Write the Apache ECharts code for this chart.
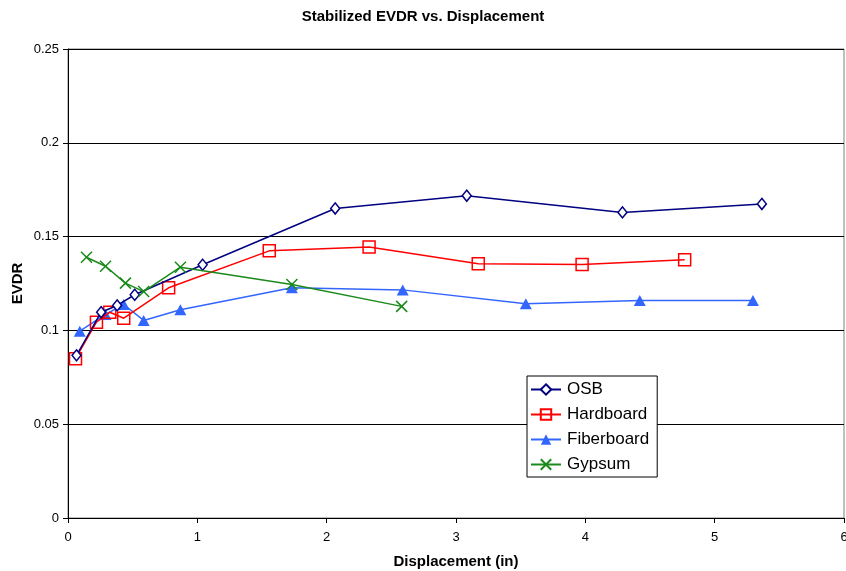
<!DOCTYPE html>
<html>
<head>
<meta charset="utf-8">
<script src="https://cdn.jsdelivr.net/npm/echarts@6/dist/echarts.min.js"></script>
<style>
  html, body { margin: 0; padding: 0; background: #fff; }
  #chart { width: 846px; height: 571px; }
</style>
</head>
<body>
<div id="chart"></div>
<script>
// Displacement (in) and stabilized EVDR for each sheathing material
const osbX = [0.066, 0.256, 0.38, 0.516, 1.041, 2.066, 3.083, 4.287, 5.365];
const osbY = [0.0867, 0.1097, 0.1133, 0.119, 0.135, 0.165, 0.1718, 0.1629, 0.1674];

const hardX = [0.058, 0.22, 0.323, 0.431, 0.778, 1.556, 2.328, 3.172, 3.975, 4.768];
const hardY = [0.0849, 0.1044, 0.1097, 0.1065, 0.1227, 0.1424, 0.1445, 0.1355, 0.1351, 0.1376];

const fiberX = [0.091, 0.29, 0.431, 0.585, 0.869, 1.731, 2.588, 3.54, 4.421, 5.296];
const fiberY = [0.0996, 0.1085, 0.1138, 0.1053, 0.111, 0.1227, 0.1216, 0.1142, 0.116, 0.116];

const gypX = [0.143, 0.29, 0.444, 0.585, 0.869, 1.731, 2.58];
const gypY = [0.139, 0.1342, 0.1252, 0.1207, 0.1337, 0.1245, 0.1128];

const xTicks = [0, 1, 2, 3, 4, 5, 6];
const yTicks = [0, 0.05, 0.1, 0.15, 0.2, 0.25];

const pairs = (xs, ys) => xs.map((x, i) => [x, ys[i]]);

const FONT = '"Liberation Sans", Arial, sans-serif';
const crossPath = 'path://M0,0L10,10M10,0L0,10';

const chart = echarts.init(document.getElementById('chart'));
chart.setOption({
  animation: false,
  backgroundColor: '#fff',
  title: {
    text: 'Stabilized EVDR vs. Displacement',
    left: 'center',
    top: 4,
    textStyle: { fontFamily: FONT, fontSize: 15, fontWeight: 'bold', color: '#000' }
  },
  grid: {
    left: 68, right: 2, top: 49, bottom: 53,
    outerBoundsMode: 'none',
    containLabel: false,
    show: true, borderColor: '#808080', borderWidth: 1, backgroundColor: '#fff'
  },
  legend: {
    orient: 'vertical',
    left: 527, top: 376,
    padding: [5, 8, 4, 3],
    itemGap: 8,
    itemWidth: 30, itemHeight: 13,
    backgroundColor: '#fff',
    borderColor: '#000', borderWidth: 1, borderRadius: 0,
    textStyle: { fontFamily: FONT, fontSize: 17, color: '#000', padding: [0, 0, 0, 1] },
    data: ['OSB', 'Hardboard', 'Fiberboard', 'Gypsum']
  },
  xAxis: {
    type: 'value',
    min: xTicks[0], max: xTicks[xTicks.length - 1], interval: 1,
    name: 'Displacement (in)',
    nameLocation: 'middle', nameGap: 36,
    nameTextStyle: { fontFamily: FONT, fontSize: 15, fontWeight: 'bold', color: '#000' },
    axisLine: { show: true, onZero: false, lineStyle: { color: '#000', width: 1 } },
    axisTick: { show: true, length: 5, lineStyle: { color: '#000' } },
    axisLabel: { fontFamily: FONT, fontSize: 13, color: '#000', margin: 13 },
    splitLine: { show: false }
  },
  yAxis: {
    type: 'value',
    min: yTicks[0], max: yTicks[yTicks.length - 1], interval: 0.05,
    name: 'EVDR',
    nameLocation: 'middle', nameGap: 43, nameRotate: 90,
    nameMoveOverlap: false,
    nameTextStyle: { fontFamily: FONT, fontSize: 15, fontWeight: 'bold', color: '#000' },
    axisLine: { show: true, lineStyle: { color: '#000', width: 1 } },
    axisTick: { show: true, length: 5, lineStyle: { color: '#000' } },
    axisLabel: {
      fontFamily: FONT, fontSize: 13, color: '#000', margin: 9,
      formatter: v => (v === 0 ? '0' : String(+v.toFixed(2)))
    },
    splitLine: { show: true, lineStyle: { color: '#000', width: 1 } }
  },
  series: [
    {
      name: 'OSB', type: 'line', data: pairs(osbX, osbY),
      symbol: 'diamond', symbolSize: [9, 11],
      lineStyle: { color: '#000080', width: 1.5 },
      itemStyle: { color: '#fff', borderColor: '#000080', borderWidth: 1.5 },
      z: 5
    },
    {
      name: 'Hardboard', type: 'line', data: pairs(hardX, hardY),
      symbol: 'rect', symbolSize: 12,
      lineStyle: { color: '#ff0000', width: 1.5 },
      itemStyle: { color: 'rgba(255,255,255,0)', borderColor: '#ff0000', borderWidth: 1.5 },
      z: 4
    },
    {
      name: 'Fiberboard', type: 'line', data: pairs(fiberX, fiberY),
      symbol: 'triangle', symbolSize: [12, 11],
      lineStyle: { color: '#3366ff', width: 1.5 },
      itemStyle: { color: '#3366ff', borderColor: '#3366ff', borderWidth: 0 },
      z: 3
    },
    {
      name: 'Gypsum', type: 'line', data: pairs(gypX, gypY),
      symbol: crossPath, symbolSize: 11,
      lineStyle: { color: '#1a8a1a', width: 1.5 },
      itemStyle: { color: 'rgba(0,0,0,0)', borderColor: '#1a8a1a', borderWidth: 1.5 },
      z: 6
    }
  ]
});
</script>
</body>
</html>
